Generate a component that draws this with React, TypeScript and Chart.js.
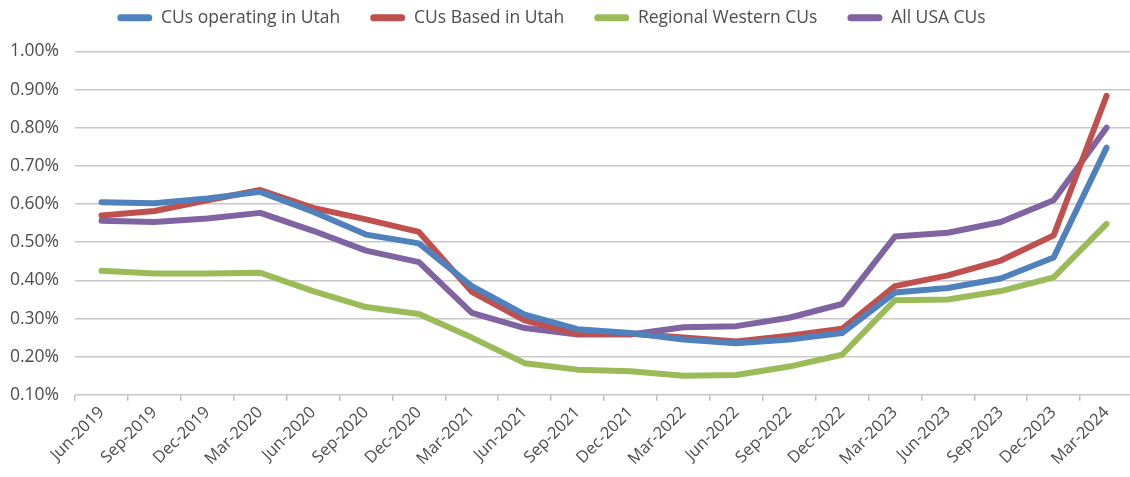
import React, { useEffect, useRef } from "react";
import { Chart, registerables } from "chart.js";

Chart.register(...registerables);

const categories = [
  "Jun-2019", "Sep-2019", "Dec-2019", "Mar-2020", "Jun-2020", "Sep-2020", "Dec-2020",
  "Mar-2021", "Jun-2021", "Sep-2021", "Dec-2021", "Mar-2022", "Jun-2022", "Sep-2022",
  "Dec-2022", "Mar-2023", "Jun-2023", "Sep-2023", "Dec-2023", "Mar-2024",
];

const utahOperating = [0.605, 0.602, 0.615, 0.632, 0.58, 0.52, 0.497, 0.385, 0.31, 0.272, 0.262, 0.245, 0.235, 0.245, 0.262, 0.368, 0.38, 0.405, 0.46, 0.748];
const utahBased = [0.57, 0.582, 0.61, 0.637, 0.59, 0.56, 0.527, 0.37, 0.295, 0.26, 0.26, 0.25, 0.24, 0.255, 0.273, 0.385, 0.413, 0.452, 0.518, 0.884];
const regionalWestern = [0.425, 0.418, 0.418, 0.42, 0.372, 0.33, 0.312, 0.25, 0.183, 0.166, 0.162, 0.15, 0.152, 0.174, 0.205, 0.348, 0.35, 0.372, 0.408, 0.548];
const allUSA = [0.556, 0.553, 0.562, 0.577, 0.53, 0.478, 0.448, 0.315, 0.275, 0.258, 0.258, 0.277, 0.28, 0.302, 0.338, 0.515, 0.525, 0.553, 0.61, 0.8];

const seriesNames = ["CUs operating in Utah", "CUs Based in Utah", "Regional Western CUs", "All USA CUs"];
const seriesColors = ["#4F81BD", "#C0504D", "#9BBB59", "#8064A2"];

const FONT = "'Open Sans', 'Liberation Sans', sans-serif";

const legendShift = {
  id: "legendShift",
  afterLayout(chart: any) {
    const lg = chart.legend;
    if (lg) {
      lg.left -= 12;
      lg.right -= 12;
      lg.top -= 15;
      lg.bottom -= 15;
    }
  },
};

export default function App() {
  const ref = useRef<HTMLCanvasElement | null>(null);
  useEffect(() => {
    document.body.style.margin = "0";
    const all = [utahOperating, utahBased, regionalWestern, allUSA];
    const chart = new Chart(ref.current!, {
      type: "line",
      data: {
        labels: categories,
        datasets: all.map((d, i) => ({
          label: seriesNames[i],
          data: d,
          borderColor: seriesColors[i],
          backgroundColor: seriesColors[i],
          borderWidth: 6,
          pointRadius: 0,
          tension: 0,
          borderJoinStyle: "round" as const,
          borderCapStyle: "round" as const,
        })),
      },
      plugins: [legendShift],
      options: {
        animation: false,
        responsive: false,
        maintainAspectRatio: false,
        layout: { padding: { left: 3, right: 0, top: -6, bottom: 6 } },
        plugins: {
          tooltip: { enabled: false },
          legend: {
            position: "top",
            labels: {
              boxWidth: 35,
              boxHeight: 7,
              useBorderRadius: true,
              borderRadius: 3.5,
              padding: 30,
              color: "#4D4D4D",
              font: { family: FONT, size: 17.5 },
              generateLabels: (c: any) =>
                Chart.defaults.plugins.legend.labels.generateLabels(c).map((l: any) => ({
                  ...l,
                  lineWidth: 0,
                  strokeStyle: "rgba(0,0,0,0)",
                })),
            },
          },
        },
        scales: {
          x: {
            offset: true,
            grid: {
              offset: true,
              drawOnChartArea: false,
              drawTicks: true,
              tickLength: 6,
              color: "#BFBFBF",
              lineWidth: 1.5,
            },
            border: { display: false },
            ticks: {
              minRotation: 45,
              maxRotation: 45,
              autoSkip: false,
              color: "#4D4D4D",
              font: { family: FONT, size: 16.5 },
              padding: 2,
            },
          },
          y: {
            min: 0.1,
            max: 1.0,
            grid: {
              color: "#C8C8C8",
              lineWidth: 1.5,
              drawTicks: false,
            },
            border: { display: false },
            ticks: {
              stepSize: 0.1,
              padding: 16,
              color: "#4D4D4D",
              font: { family: FONT, size: 17.5 },
              callback: (v: any) => Number(v).toFixed(2) + "%",
            },
          },
        },
      },
    });
    return () => chart.destroy();
  }, []);
  return (
    <div style={{ position: "relative", width: 1130, height: 477, overflow: "hidden" }}>
      <canvas
        ref={ref}
        width={1142}
        height={477}
        style={{ display: "block", position: "absolute", left: -9, top: 0 }}
      />
    </div>
  );
}
